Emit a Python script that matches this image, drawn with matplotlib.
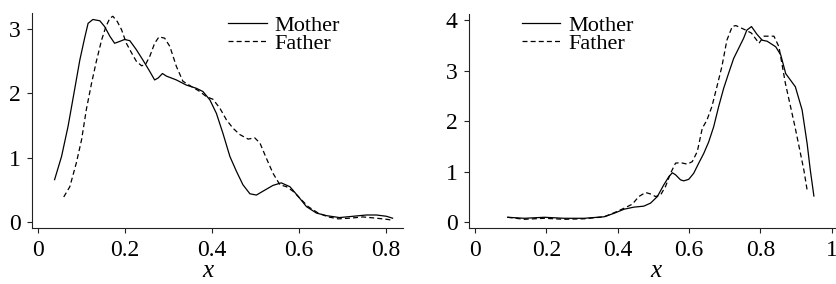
import matplotlib.pyplot as plt

# left panel: density estimates, first variable
left_mother_x = [0.038, 0.054, 0.069, 0.084, 0.096, 0.107, 0.115, 0.126, 0.142, 0.153,
                 0.165, 0.176, 0.188, 0.199, 0.211, 0.226, 0.241, 0.257, 0.268, 0.276,
                 0.286, 0.295, 0.318, 0.341, 0.364, 0.379, 0.395, 0.410, 0.425, 0.441,
                 0.456, 0.471, 0.487, 0.502, 0.517, 0.540, 0.559, 0.579, 0.598, 0.617,
                 0.640, 0.663, 0.693, 0.724, 0.755, 0.778, 0.801, 0.815]
left_mother_y = [0.66, 1.02, 1.49, 2.06, 2.52, 2.86, 3.09, 3.15, 3.13, 3.04,
                 2.89, 2.78, 2.81, 2.84, 2.82, 2.68, 2.52, 2.34, 2.21, 2.24,
                 2.31, 2.27, 2.21, 2.13, 2.08, 2.03, 1.90, 1.69, 1.38, 1.02,
                 0.79, 0.58, 0.44, 0.42, 0.48, 0.57, 0.61, 0.55, 0.40, 0.24,
                 0.14, 0.10, 0.07, 0.09, 0.11, 0.11, 0.09, 0.06]

left_father_x = [0.059, 0.073, 0.088, 0.100, 0.111, 0.123, 0.134, 0.146, 0.156, 0.165,
                 0.172, 0.182, 0.192, 0.203, 0.215, 0.226, 0.238, 0.247, 0.257, 0.268,
                 0.278, 0.291, 0.303, 0.318, 0.333, 0.352, 0.372, 0.387, 0.402, 0.418,
                 0.433, 0.448, 0.464, 0.483, 0.498, 0.510, 0.525, 0.540, 0.556, 0.571,
                 0.586, 0.602, 0.621, 0.644, 0.667, 0.690, 0.716, 0.747, 0.778, 0.805,
                 0.812]
left_father_y = [0.39, 0.55, 0.92, 1.28, 1.75, 2.16, 2.50, 2.83, 3.04, 3.17,
                 3.20, 3.12, 2.99, 2.78, 2.63, 2.50, 2.43, 2.45, 2.58, 2.78,
                 2.88, 2.86, 2.73, 2.42, 2.19, 2.11, 2.03, 1.95, 1.91, 1.77,
                 1.59, 1.46, 1.36, 1.29, 1.31, 1.23, 0.99, 0.76, 0.58, 0.55,
                 0.48, 0.37, 0.24, 0.14, 0.08, 0.05, 0.06, 0.08, 0.06, 0.04,
                 0.03]

# right panel: density estimates, second variable
right_mother_x = [0.091, 0.138, 0.194, 0.250, 0.306, 0.362, 0.390, 0.418, 0.445, 0.473,
                  0.492, 0.511, 0.529, 0.543, 0.553, 0.562, 0.576, 0.585, 0.599, 0.613,
                  0.627, 0.641, 0.655, 0.669, 0.683, 0.697, 0.711, 0.725, 0.739, 0.753,
                  0.762, 0.775, 0.790, 0.805, 0.819, 0.843, 0.857, 0.871, 0.898, 0.917,
                  0.931, 0.940, 0.950]
right_mother_y = [0.10, 0.08, 0.10, 0.08, 0.08, 0.11, 0.18, 0.26, 0.30, 0.32,
                  0.38, 0.51, 0.74, 0.90, 0.98, 0.94, 0.84, 0.82, 0.85, 0.97,
                  1.17, 1.36, 1.59, 1.89, 2.29, 2.65, 2.95, 3.24, 3.44, 3.64,
                  3.80, 3.87, 3.72, 3.60, 3.58, 3.47, 3.31, 2.94, 2.68, 2.22,
                  1.56, 1.03, 0.52]

right_father_x = [0.091, 0.138, 0.194, 0.250, 0.306, 0.362, 0.390, 0.418, 0.441, 0.459,
                  0.478, 0.492, 0.506, 0.520, 0.534, 0.548, 0.562, 0.576, 0.595, 0.609,
                  0.623, 0.637, 0.650, 0.664, 0.678, 0.692, 0.706, 0.721, 0.731, 0.759,
                  0.775, 0.796, 0.810, 0.838, 0.852, 0.870, 0.897, 0.922, 0.931]
right_father_y = [0.10, 0.06, 0.08, 0.06, 0.07, 0.11, 0.19, 0.28, 0.36, 0.51,
                  0.59, 0.56, 0.51, 0.54, 0.71, 0.97, 1.17, 1.18, 1.15, 1.20,
                  1.40, 1.86, 2.02, 2.29, 2.68, 3.08, 3.60, 3.87, 3.89, 3.80,
                  3.74, 3.54, 3.68, 3.68, 3.47, 2.75, 1.89, 1.03, 0.64]

left_xticks = [0, 0.2, 0.4, 0.6, 0.8]
left_xticklabels = ["0", "0.2", "0.4", "0.6", "0.8"]
left_yticks = [0, 1, 2, 3]
right_xticks = [0, 0.2, 0.4, 0.6, 0.8, 1]
right_xticklabels = ["0", "0.2", "0.4", "0.6", "0.8", "1"]
right_yticks = [0, 1, 2, 3, 4]

plt.rcParams["font.family"] = ["Liberation Serif", "DejaVu Serif"]

DASH = (0, (4, 2.5))
LW = 0.9


def style_axes(ax, xticks, xticklabels, yticks, label_x):
    for side in ("top", "right"):
        ax.spines[side].set_visible(False)
    for side in ("left", "bottom"):
        ax.spines[side].set_linewidth(0.8)
        ax.spines[side].set_color("#222222")
    ax.set_xticks(xticks)
    ax.set_xticklabels(xticklabels)
    ax.set_yticks(yticks)
    ax.tick_params(direction="out", length=3.6, width=0.8, color="#222222",
                   labelsize=17)
    ax.tick_params(axis="x", pad=5)
    ax.tick_params(axis="y", pad=4.5)
    ax.set_xlabel("x", fontsize=18, style="italic")
    ax.xaxis.set_label_coords(label_x, -0.252)
    ax.xaxis.label.set_va("bottom")


def add_legend(ax, left):
    ax.legend(loc="upper left", bbox_to_anchor=(left, 0.945), bbox_transform=fig.transFigure,
              frameon=False, fontsize=16, borderpad=0, borderaxespad=0, handlelength=1.73,
              handletextpad=0.36, labelspacing=-0.12)


fig = plt.figure(figsize=(8.37, 2.84), dpi=100)

ax1 = fig.add_axes([0.0382, 0.197, 0.4433, 0.757])
ax1.plot(left_mother_x, left_mother_y, color="black", lw=LW, label="Mother")
ax1.plot(left_father_x, left_father_y, color="black", lw=LW, ls=DASH, label="Father")
ax1.set_xlim(-0.014, 0.839)
ax1.set_ylim(-0.093, 3.25)
style_axes(ax1, left_xticks, left_xticklabels, left_yticks, 0.474)
add_legend(ax1, 0.2728)

ax2 = fig.add_axes([0.560, 0.197, 0.4388, 0.754])
ax2.plot(right_mother_x, right_mother_y, color="black", lw=LW, label="Mother")
ax2.plot(right_father_x, right_father_y, color="black", lw=LW, ls=DASH, label="Father")
ax2.set_xlim(-0.018, 1.012)
ax2.set_ylim(-0.113, 4.12)
style_axes(ax2, right_xticks, right_xticklabels, right_yticks, 0.5086)
add_legend(ax2, 0.6237)

fig.savefig("out.png", dpi=100)
